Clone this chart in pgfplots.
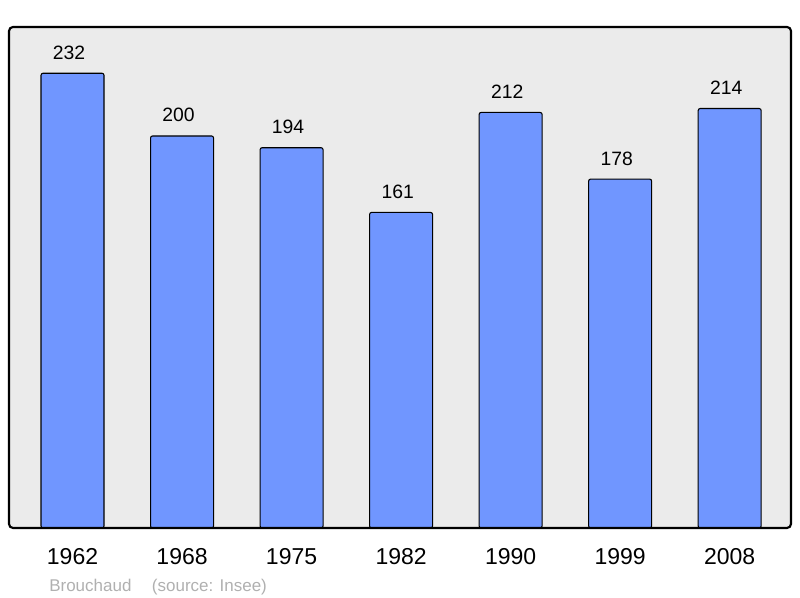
\documentclass[border=0pt]{standalone}
\usepackage{pgfplots}
\pgfplotsset{compat=1.18}
\usetikzlibrary{calc}
\usepackage{fontspec}
\setmainfont{Liberation Sans}
\definecolor{barblue}{RGB}{112,150,255}
\definecolor{panel}{RGB}{235,235,235}
\definecolor{srcgray}{RGB}{176,176,176}
\def\px{0.75pt}

\begin{document}
\begin{tikzpicture}
  \begin{axis}[anchor=south west,
               scale only axis,
               width=782*\px, height=501*\px,
               xmin=-0.58, xmax=6.56,
               ymin=0, ymax=255.6,
               axis lines=none,
               ybar, bar width=47.25pt,
               xtick=data, ytick=\empty,
               clip=false,
               /pgf/number format/assume math mode=true,
               nodes near coords,
               every node near coord/.append style={font=\fontsize{14.5pt}{16pt}\selectfont,
                 anchor=base, inner sep=0pt, yshift=10.5pt, xshift=-2.6pt, black},
              ]
    % panel
    \fill[panel, rounded corners=3pt] (rel axis cs:0,0) rectangle (rel axis cs:1,1);

    % bars
    \addplot[draw=black, line width=0.8pt, fill=barblue, rounded corners=1.5pt]
      coordinates {(0,232) (1,200) (2,194) (3,161) (4,212) (5,178) (6,214)};

    % frame
    \draw[line width=1.6pt, rounded corners=3pt] (rel axis cs:0,0) rectangle (rel axis cs:1,1);

    % year labels
    \foreach \i/\y in {0/1962,1/1968,2/1975,3/1982,4/1990,5/1999,6/2008}{
      \edef\tmp{\noexpand\node[anchor=base, inner sep=0pt, font=\noexpand\fontsize{17.25pt}{19pt}\noexpand\selectfont]
        at (axis cs:\i,0) [yshift=-27.75pt] {\y};}
      \tmp
    }
    \coordinate (SW) at (rel axis cs:0,0);
  \end{axis}

  \node[anchor=base west, inner sep=0pt, text=srcgray, font=\fontsize{12.75pt}{14pt}\selectfont]
    at ($(SW)+(30pt,-47.3pt)$) {Brouchaud};
  \node[anchor=base west, inner sep=0pt, text=srcgray, font=\fontsize{12.75pt}{14pt}\selectfont]
    at ($(SW)+(107pt,-47.3pt)$) {(source: Insee)};

  \pgfresetboundingbox
  \path[use as bounding box] ($(SW)+(-6.75pt,-52.5pt)$) rectangle ($(SW)+(593.25pt,396pt)$);
\end{tikzpicture}
\end{document}
